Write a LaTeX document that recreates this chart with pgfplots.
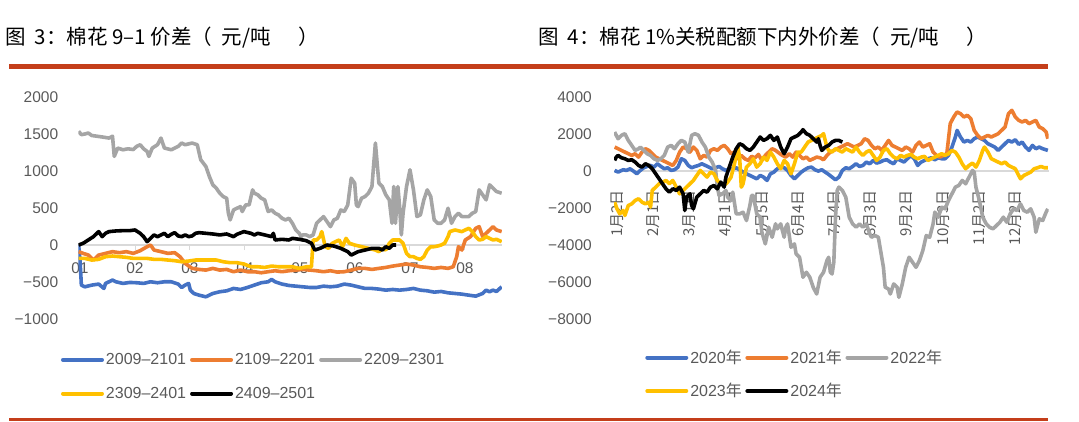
\documentclass[border=0pt]{standalone}
\usepackage{pgfplots}
\pgfplotsset{compat=1.18}
\usepackage{fontspec}
\setmainfont{Liberation Sans}
\newfontfamily\cjk{Noto Sans CJK SC}
\definecolor{cblue}{RGB}{68,114,196}
\definecolor{corange}{RGB}{237,125,49}
\definecolor{cgray}{RGB}{165,165,165}
\definecolor{cyellow}{RGB}{255,192,0}
\definecolor{cred}{RGB}{196,62,26}
\definecolor{tickgray}{RGB}{89,89,89}
\definecolor{axgray}{RGB}{217,217,217}
\pgfplotsset{
  cstyle/.style={
    scale only axis, axis x line=middle, axis y line=left,
    x axis line style={-, draw=axgray, line width=1.2pt},
    y axis line style={draw=none},
    tick label style={font=\fontsize{15.5}{18}\selectfont, text=tickgray},
    ytick style={draw=none},
    legend columns=3, legend cell align=left,
    legend style={draw=none, fill=none, inner sep=0pt, outer sep=0pt,
      nodes={inner sep=0pt},
      font=\fontsize{16}{19}\selectfont, text=tickgray, anchor=north west,
      /tikz/every odd column/.append style={column sep=2pt}},
    every axis plot/.append style={line width=3.6pt, line join=round, no markers},
  }
}
\begin{document}
\begin{tikzpicture}[x=1pt,y=1pt]
\path[use as bounding box] (0pt,0pt) rectangle (1079pt,421pt);
% titles and rules
\node[anchor=base west, inner sep=0pt, font=\cjk\fontsize{20.5}{24}\selectfont] at (5pt,376pt) {图\hspace{9pt}3：棉花 9–1 价差（\hspace{10pt}元/吨\hspace{27pt}）};
\node[anchor=base west, inner sep=0pt, font=\cjk\fontsize{20.5}{24}\selectfont] at (538pt,376pt) {图\hspace{9pt}4：棉花 1\%关税配额下内外价差（\hspace{10pt}元/吨\hspace{27pt}）};
\draw[cred, line width=4.5pt] (9pt,354.5pt) -- (1048pt,354.5pt);
\draw[cred, line width=3pt] (9pt,1.5pt) -- (1048pt,1.5pt);

% ---------------- left chart ----------------
\begin{axis}[cstyle,
  at={(78.35pt,102pt)}, anchor=south west, width=423.5pt, height=222pt,
  xmin=0.97, xmax=8.67, ymin=-1000, ymax=2000,
  xtick={1,2,3,4,5,6,7,8}, xticklabels={01,02,03,04,05,06,07,08},
  xtick style={draw=axgray, line width=1pt}, major tick length=5pt, tick align=outside,
  xticklabel style={anchor=north, inner sep=0pt, yshift=-12pt},
  ytick={-1000,-500,0,500,1000,1500,2000},
  yticklabels={−1000,−500,0,500,1000,1500,2000},
  yticklabel style={anchor=east, inner sep=0pt, xshift=-15pt},
  legend image code/.code={\draw[#1, line width=4pt, line cap=round] (0pt,0pt) -- (39pt,0pt);},
  legend style={at={(-0.041,-0.1555)}, /tikz/row sep=21pt,
      /tikz/every even column/.append style={column sep=4pt}},
]
\addplot[cblue] coordinates {(0.975,0) (1.0,-200) (1.025,-542) (1.088,-565) (1.214,-542) (1.340,-528) (1.434,-587) (1.465,-519) (1.591,-474) (1.654,-497) (1.780,-519) (1.906,-506) (2.031,-510) (2.157,-519) (2.283,-497) (2.409,-510) (2.535,-497) (2.660,-497) (2.786,-528) (2.849,-574) (2.912,-542) (2.975,-519) (3.006,-610) (3.069,-655) (3.164,-678) (3.289,-700) (3.415,-655) (3.541,-632) (3.667,-619) (3.792,-587) (3.918,-601) (4.044,-574) (4.170,-542) (4.296,-510) (4.421,-497) (4.484,-465) (4.547,-497) (4.673,-528) (4.799,-547) (4.925,-556) (5.050,-565) (5.176,-574) (5.302,-574) (5.428,-556) (5.553,-565) (5.679,-556) (5.805,-528) (5.931,-542) (6.057,-565) (6.182,-587) (6.308,-587) (6.434,-596) (6.560,-610) (6.686,-601) (6.811,-610) (6.937,-601) (7.063,-587) (7.189,-610) (7.314,-619) (7.440,-637) (7.566,-628) (7.692,-646) (7.818,-655) (7.943,-664) (8.069,-678) (8.195,-691) (8.321,-655) (8.384,-610) (8.447,-632) (8.509,-610) (8.572,-628) (8.667,-565)};
\addlegendentry{2009–2101}
\addplot[corange] coordinates {(0.975,-90) (1.057,-113) (1.151,-136) (1.245,-203) (1.340,-136) (1.465,-113) (1.591,-90) (1.717,-104) (1.843,-90) (1.969,-113) (2.094,-77) (2.220,-23) (2.283,0) (2.346,-68) (2.472,-90) (2.597,-113) (2.723,-104) (2.818,-158) (2.912,-248) (3.038,-316) (3.164,-330) (3.289,-339) (3.415,-316) (3.541,-339) (3.667,-330) (3.792,-361) (3.918,-339) (4.044,-361) (4.170,-361) (4.296,-375) (4.421,-361) (4.547,-348) (4.673,-361) (4.799,-348) (4.925,-339) (5.050,-330) (5.176,-339) (5.302,-348) (5.428,-361) (5.553,-348) (5.679,-366) (5.805,-361) (5.931,-339) (6.057,-316) (6.182,-316) (6.308,-330) (6.434,-316) (6.560,-303) (6.686,-285) (6.811,-271) (6.937,-257) (7.063,-271) (7.189,-294) (7.314,-303) (7.440,-316) (7.566,-303) (7.692,-316) (7.786,-294) (7.849,-158) (7.881,-23) (7.943,-68) (8.006,68) (8.101,113) (8.195,226) (8.258,248) (8.321,113) (8.384,158) (8.447,203) (8.509,248) (8.572,203) (8.667,181)};
\addlegendentry{2109–2201}
\addplot[cgray] coordinates {(0.975,1536) (1.025,1491) (1.088,1500) (1.151,1513) (1.214,1480) (1.308,1470) (1.403,1460) (1.528,1445) (1.591,1470) (1.623,1197) (1.686,1310) (1.780,1287) (1.874,1300) (1.969,1290) (2.031,1333) (2.094,1355) (2.157,1300) (2.220,1265) (2.252,1197) (2.314,1310) (2.409,1355) (2.472,1445) (2.535,1310) (2.660,1287) (2.786,1333) (2.849,1378) (2.912,1355) (3.038,1378) (3.132,1355) (3.195,1152) (3.289,1061) (3.352,926) (3.415,813) (3.478,768) (3.541,700) (3.604,655) (3.667,632) (3.698,429) (3.730,339) (3.792,474) (3.855,497) (3.918,519) (3.950,452) (4.013,542) (4.075,542) (4.138,745) (4.170,700) (4.233,678) (4.296,632) (4.358,610) (4.421,452) (4.484,474) (4.547,429) (4.610,407) (4.673,361) (4.736,339) (4.799,361) (4.862,294) (4.925,203) (4.987,158) (5.019,113) (5.050,136) (5.113,136) (5.176,113) (5.239,136) (5.302,294) (5.365,339) (5.428,384) (5.491,316) (5.553,248) (5.616,339) (5.679,361) (5.742,474) (5.805,452) (5.868,542) (5.931,903) (5.994,836) (6.025,542) (6.057,519) (6.119,632) (6.182,655) (6.245,700) (6.308,790) (6.371,1378) (6.434,836) (6.497,790) (6.560,678) (6.623,610) (6.673,294) (6.704,790) (6.736,294) (6.780,790) (6.811,519) (6.843,136) (6.874,429) (6.937,790) (7.0,1016) (7.063,745) (7.126,384) (7.189,407) (7.252,610) (7.314,745) (7.377,655) (7.440,339) (7.503,294) (7.566,294) (7.629,339) (7.692,497) (7.755,294) (7.818,384) (7.881,429) (7.943,384) (8.006,384) (8.069,384) (8.132,429) (8.195,452) (8.258,745) (8.321,678) (8.384,610) (8.447,813) (8.509,768) (8.572,723) (8.667,700)};
\addlegendentry{2209–2301}
\addplot[cyellow] coordinates {(0.975,-181) (1.088,-181) (1.214,-203) (1.340,-194) (1.465,-158) (1.591,-149) (1.717,-158) (1.843,-167) (1.969,-181) (2.094,-181) (2.220,-181) (2.346,-194) (2.472,-194) (2.597,-203) (2.723,-212) (2.849,-226) (2.975,-217) (3.101,-203) (3.226,-203) (3.352,-203) (3.478,-203) (3.604,-226) (3.730,-239) (3.855,-239) (3.981,-257) (4.107,-294) (4.233,-294) (4.358,-303) (4.484,-285) (4.610,-294) (4.736,-294) (4.862,-294) (4.987,-316) (5.113,-294) (5.208,-294) (5.239,68) (5.302,68) (5.365,113) (5.396,181) (5.459,-23) (5.522,-45) (5.585,23) (5.648,45) (5.711,68) (5.774,-23) (5.836,90) (5.899,23) (5.994,0) (6.119,-23) (6.245,-45) (6.371,-68) (6.434,-90) (6.497,-45) (6.560,-68) (6.623,23) (6.686,68) (6.811,68) (6.874,23) (6.937,-113) (7.0,-158) (7.063,-158) (7.126,-181) (7.189,-194) (7.252,-158) (7.314,-68) (7.377,-23) (7.440,-23) (7.503,-14) (7.566,0) (7.629,23) (7.692,113) (7.723,181) (7.818,203) (7.943,181) (8.069,226) (8.132,181) (8.195,113) (8.258,68) (8.321,77) (8.384,113) (8.447,90) (8.509,68) (8.572,77) (8.667,45)};
\addlegendentry{2309–2401}
\addplot[black] coordinates {(0.975,0) (1.057,23) (1.151,68) (1.245,113) (1.340,181) (1.403,113) (1.465,158) (1.528,181) (1.654,190) (1.780,194) (1.906,194) (2.0,203) (2.094,158) (2.157,113) (2.220,45) (2.283,90) (2.346,136) (2.409,113) (2.472,136) (2.535,158) (2.597,113) (2.660,145) (2.723,167) (2.786,122) (2.849,113) (2.912,136) (2.975,113) (3.038,122) (3.101,158) (3.164,167) (3.289,158) (3.415,149) (3.541,136) (3.667,149) (3.792,113) (3.855,145) (3.981,181) (4.107,158) (4.170,136) (4.233,158) (4.358,136) (4.484,113) (4.516,158) (4.547,68) (4.673,77) (4.799,68) (4.862,90) (4.987,77) (5.113,59) (5.208,23) (5.270,-68) (5.365,-45) (5.491,0) (5.616,-14) (5.742,-45) (5.868,-90) (5.931,-136) (5.994,-113) (6.057,-90) (6.182,-68) (6.308,-45) (6.434,-45) (6.497,-68) (6.560,-23) (6.623,-45) (6.686,0) (6.748,0)};
\addlegendentry{2409–2501}
\end{axis}

% ---------------- right chart ----------------
\begin{axis}[cstyle,
  at={(614.1pt,102pt)}, anchor=south west, width=434.4pt, height=222pt,
  xmin=-0.08, xmax=11.92, ymin=-8000, ymax=4000,
  xtick={0,1,2,3,4,5,6,7,8,9,10,11},
  xticklabels={{\cjk 1月2日},{\cjk 2月1日},{\cjk 3月1日},{\cjk 4月1日},{\cjk 5月5日},{\cjk 6月4日},{\cjk 7月4日},{\cjk 8月3日},{\cjk 9月2日},{\cjk 10月3日},{\cjk 11月2日},{\cjk 12月2日}},
  xtick style={draw=none},
  xticklabel style={yshift=-17pt, rotate=90, anchor=east, inner sep=0pt, font=\fontsize{15}{18}\selectfont},
  ytick={-8000,-6000,-4000,-2000,0,2000,4000},
  yticklabels={−8000,−6000,−4000,−2000,0,2000,4000},
  yticklabel style={anchor=east, inner sep=0pt, xshift=-20pt},
  legend image code/.code={\draw[#1, line width=4pt, line cap=round] (0pt,0pt) -- (39pt,0pt);},
  legend style={at={(0.0718,-0.14)}, /tikz/row sep=18.4pt,
      /tikz/every even column/.append style={column sep=3.5pt}},
]
\addplot[cblue] coordinates {(-0.066,31) (0.028,-60) (0.170,67) (0.265,31) (0.360,121) (0.454,-5) (0.549,-150) (0.643,31) (0.738,175) (0.833,247) (0.927,301) (1.022,211) (1.116,392) (1.211,247) (1.306,121) (1.400,175) (1.495,31) (1.589,67) (1.684,211) (1.779,662) (1.873,572) (1.968,301) (2.062,175) (2.157,247) (2.252,301) (2.346,392) (2.441,301) (2.536,211) (2.630,121) (2.725,175) (2.819,247) (2.914,121) (3.009,31) (3.103,121) (3.198,121) (3.292,175) (3.387,67) (3.482,-60) (3.576,-150) (3.671,-240) (3.765,-330) (3.860,-421) (3.955,-240) (4.049,-330) (4.144,-511) (4.238,-150) (4.333,-60) (4.428,121) (4.522,211) (4.617,175) (4.711,31) (4.806,-240) (4.901,-421) (4.995,-240) (5.090,-60) (5.184,67) (5.279,175) (5.374,211) (5.468,67) (5.563,-5) (5.658,67) (5.752,-60) (5.847,-186) (5.941,-330) (6.036,-475) (6.131,-330) (6.225,31) (6.320,175) (6.414,121) (6.509,247) (6.604,392) (6.698,247) (6.793,301) (6.887,482) (6.982,392) (7.077,572) (7.171,428) (7.266,482) (7.360,572) (7.455,608) (7.550,482) (7.644,392) (7.739,662) (7.834,572) (7.928,482) (8.023,662) (8.117,843) (8.212,662) (8.307,301) (8.401,482) (8.496,572) (8.590,662) (8.685,716) (8.780,608) (8.874,716) (8.969,662) (9.063,662) (9.158,843) (9.253,1294) (9.347,1836) (9.395,2197) (9.489,1836) (9.584,1565) (9.678,1655) (9.773,1565) (9.868,1745) (9.962,1836) (10.057,1745) (10.151,1655) (10.246,1475) (10.341,1384) (10.435,1294) (10.530,1114) (10.624,1294) (10.719,1475) (10.814,1655) (10.908,1565) (11.003,1691) (11.097,1439) (11.192,1565) (11.287,1294) (11.381,1114) (11.476,1384) (11.570,1204) (11.665,1294) (11.760,1204) (11.902,1114)};
\addlegendentry{2020{\cjk 年}}
\addplot[corange] coordinates {(-0.066,1294) (0.028,1204) (0.123,1114) (0.218,1023) (0.312,933) (0.407,843) (0.501,933) (0.596,752) (0.691,1023) (0.785,1204) (0.880,1114) (0.974,933) (1.069,752) (1.164,662) (1.258,572) (1.353,482) (1.447,392) (1.542,301) (1.637,572) (1.731,1023) (1.826,1294) (1.921,1204) (2.015,1023) (2.110,1294) (2.204,1114) (2.299,662) (2.394,843) (2.488,752) (2.583,1114) (2.677,1204) (2.772,1114) (2.867,1294) (2.961,1384) (3.056,1204) (3.150,933) (3.245,1023) (3.340,662) (3.434,843) (3.529,662) (3.623,572) (3.718,789) (3.813,716) (3.907,897) (4.002,572) (4.097,843) (4.191,1023) (4.286,1204) (4.380,1114) (4.475,969) (4.570,843) (4.664,752) (4.759,933) (4.853,752) (4.948,1023) (5.043,843) (5.137,662) (5.232,752) (5.326,572) (5.421,662) (5.516,752) (5.610,716) (5.705,608) (5.799,843) (5.894,1023) (5.989,1114) (6.083,1204) (6.178,1294) (6.273,1384) (6.367,1475) (6.461,1384) (6.556,1294) (6.651,1384) (6.745,1475) (6.840,1745) (6.935,1655) (7.029,1384) (7.124,1204) (7.219,1294) (7.313,1114) (7.408,1384) (7.502,1655) (7.597,1384) (7.691,1294) (7.786,1204) (7.881,1114) (7.975,1294) (8.070,1204) (8.165,1023) (8.259,1384) (8.354,1565) (8.448,1294) (8.543,1384) (8.638,1475) (8.732,1023) (8.827,843) (8.921,752) (9.016,843) (9.111,933) (9.158,1745) (9.205,2558) (9.300,2919) (9.395,3190) (9.489,3099) (9.584,2919) (9.678,3009) (9.773,2828) (9.868,2197) (9.962,1926) (10.057,1745) (10.151,1836) (10.246,1926) (10.341,1836) (10.435,1926) (10.530,2016) (10.624,2197) (10.719,2377) (10.814,3099) (10.908,3280) (11.003,2919) (11.097,2738) (11.192,2648) (11.287,2738) (11.381,2558) (11.476,2648) (11.570,2738) (11.665,2377) (11.760,2287) (11.854,2106) (11.902,1745)};
\addlegendentry{2021{\cjk 年}}
\addplot[cgray] coordinates {(-0.066,2106) (0.028,1745) (0.123,1926) (0.218,2016) (0.312,1655) (0.407,1384) (0.501,1114) (0.596,1204) (0.643,1294) (0.738,1114) (0.833,933) (0.927,843) (1.022,662) (1.116,572) (1.211,662) (1.306,843) (1.400,1294) (1.495,1384) (1.589,1204) (1.684,1475) (1.779,1655) (1.873,1565) (1.968,1023) (2.062,1926) (2.157,2016) (2.252,1926) (2.346,1565) (2.441,1294) (2.536,752) (2.630,482) (2.725,31) (2.772,-872) (2.819,-1323) (2.914,-1233) (3.009,-1052) (3.056,-1413) (3.150,-1594) (3.198,-1143) (3.292,-2316) (3.387,-2316) (3.482,-2226) (3.576,-2677) (3.671,-1865) (3.718,-1323) (3.765,-1323) (3.860,-2316) (3.955,-2496) (4.002,-3309) (4.097,-3940) (4.191,-3038) (4.286,-3579) (4.380,-2857) (4.428,-3128) (4.522,-2857) (4.617,-3579) (4.664,-3038) (4.711,-2857) (4.806,-4121) (4.901,-3940) (4.948,-4482) (5.043,-4662) (5.137,-5745) (5.232,-5474) (5.326,-5745) (5.421,-6287) (5.516,-6648) (5.610,-5745) (5.705,-5474) (5.799,-4843) (5.847,-4662) (5.894,-5474) (5.941,-5565) (5.989,-4933) (6.036,-2496) (6.083,-1052) (6.131,-872) (6.225,-1052) (6.320,-1413) (6.414,-2496) (6.509,-2857) (6.604,-3038) (6.698,-2857) (6.793,-3038) (6.887,-2857) (6.982,-3399) (7.029,-3579) (7.124,-3489) (7.219,-3579) (7.313,-4662) (7.360,-5204) (7.408,-6287) (7.502,-6377) (7.550,-6648) (7.644,-6106) (7.739,-6287) (7.786,-6828) (7.881,-6106) (7.975,-5204) (8.070,-4662) (8.165,-4933) (8.259,-5204) (8.354,-4843) (8.448,-4301) (8.543,-3489) (8.638,-3579) (8.732,-2857) (8.780,-2226) (8.874,-2496) (8.969,-1955) (9.063,-2045) (9.158,-1594) (9.253,-1233) (9.347,-872) (9.442,-782) (9.536,-511) (9.631,-691) (9.726,-330) (9.820,31) (9.868,-60) (9.915,-872) (10.009,-1594) (10.104,-2496) (10.199,-2857) (10.293,-3038) (10.388,-3128) (10.482,-2948) (10.577,-2767) (10.672,-2496) (10.766,-2767) (10.861,-2316) (10.955,-2045) (11.050,-2135) (11.145,-1774) (11.239,-2135) (11.334,-2226) (11.428,-2045) (11.523,-2496) (11.570,-3309) (11.665,-2587) (11.760,-2677) (11.854,-2226) (11.902,-2045)};
\addlegendentry{2022{\cjk 年}}
\addplot[cyellow] coordinates {(-0.066,-1684) (0.000,-2045) (0.076,-2316) (0.170,-2135) (0.218,-2406) (0.312,-1865) (0.407,-1774) (0.501,-1594) (0.596,-1504) (0.691,-1684) (0.785,-1774) (0.880,-1684) (0.927,-1955) (0.974,-1052) (1.069,-872) (1.164,-691) (1.258,-601) (1.353,-511) (1.447,-691) (1.542,-511) (1.637,-872) (1.731,-1233) (1.826,-1052) (1.921,-872) (2.015,-691) (2.110,-511) (2.204,-240) (2.299,31) (2.394,-150) (2.488,-330) (2.583,-60) (2.677,-150) (2.772,-511) (2.867,-691) (2.961,-782) (3.056,-601) (3.150,-330) (3.245,392) (3.340,1294) (3.387,752) (3.434,-872) (3.482,-691) (3.576,211) (3.671,392) (3.765,662) (3.860,211) (3.955,392) (4.049,752) (4.144,572) (4.238,1023) (4.333,752) (4.428,392) (4.522,121) (4.617,572) (4.711,392) (4.806,-150) (4.901,392) (4.995,1023) (5.090,1023) (5.184,1294) (5.279,1565) (5.374,1655) (5.468,1745) (5.563,1836) (5.658,1926) (5.705,2016) (5.752,1655) (5.799,1294) (5.847,1114) (5.941,1023) (6.036,1204) (6.131,1114) (6.225,1023) (6.320,1204) (6.414,1114) (6.509,1023) (6.604,1294) (6.698,1023) (6.793,843) (6.887,1023) (6.982,1114) (7.077,843) (7.171,572) (7.266,752) (7.360,1114) (7.455,1204) (7.550,933) (7.644,752) (7.739,662) (7.834,843) (7.928,752) (8.023,843) (8.117,897) (8.212,752) (8.307,662) (8.401,752) (8.496,789) (8.590,572) (8.685,662) (8.780,752) (8.874,843) (8.969,933) (9.063,843) (9.158,933) (9.253,1114) (9.347,1023) (9.442,752) (9.536,392) (9.631,121) (9.726,301) (9.820,428) (9.915,211) (10.009,572) (10.104,1114) (10.151,1294) (10.246,1023) (10.341,662) (10.435,572) (10.530,482) (10.624,392) (10.719,482) (10.814,301) (10.908,211) (11.003,121) (11.097,-240) (11.145,-421) (11.239,-240) (11.334,-150) (11.428,-60) (11.523,121) (11.618,175) (11.712,247) (11.807,175) (11.902,175)};
\addlegendentry{2023{\cjk 年}}
\addplot[black] coordinates {(-0.066,572) (-0.019,752) (0.028,843) (0.123,716) (0.218,662) (0.312,572) (0.407,608) (0.501,482) (0.596,301) (0.691,211) (0.785,392) (0.880,301) (0.974,121) (1.069,-150) (1.164,-421) (1.258,-691) (1.353,-962) (1.447,-1143) (1.542,-962) (1.637,-1052) (1.731,-872) (1.826,-1233) (1.873,-2135) (1.921,-1413) (2.015,-1233) (2.062,-1865) (2.110,-2045) (2.204,-1413) (2.299,-1233) (2.394,-1052) (2.488,-1143) (2.583,-872) (2.677,-782) (2.772,-962) (2.867,-601) (2.961,-872) (3.009,-330) (3.103,211) (3.198,752) (3.292,1204) (3.387,1475) (3.482,1384) (3.576,1204) (3.671,1114) (3.765,1294) (3.860,1565) (3.955,1836) (4.049,1655) (4.144,1745) (4.238,1926) (4.333,1655) (4.428,1836) (4.522,1294) (4.617,933) (4.711,1294) (4.806,1745) (4.901,1836) (4.995,1926) (5.090,2106) (5.137,2233) (5.232,2016) (5.326,1926) (5.421,1745) (5.516,1565) (5.563,1745) (5.610,1384) (5.658,1114) (5.752,1294) (5.847,1384) (5.941,1565) (6.036,1655) (6.131,1655) (6.225,1565)};
\addlegendentry{2024{\cjk 年}}
\end{axis}
\end{tikzpicture}
\end{document}
